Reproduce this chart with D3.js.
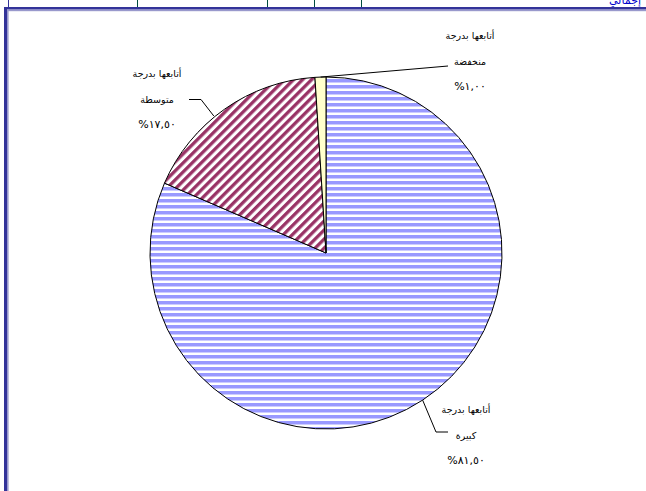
<!DOCTYPE html>
<html><head><meta charset="utf-8">
<script src="https://cdn.jsdelivr.net/npm/d3@7"></script>
<style>html,body{margin:0;padding:0;background:#fff;overflow:hidden}</style>
</head><body>
<svg id="c" width="646" height="491"></svg>
<script>
const categories = ["أتابعها بدرجة كبيرة", "أتابعها بدرجة متوسطة", "أتابعها بدرجة منخفضة"];
const values = [81.5, 17.5, 1.0];
const labelLine1 = ["أتابعها بدرجة", "أتابعها بدرجة", "أتابعها بدرجة"];
const labelLine2 = ["كبيرة", "متوسطة", "منخفضة"];
const valueLabels = ["%٨١,٥٠", "%١٧,٥٠", "%١,٠٠"];

(function(){
const svg = d3.select("#c");
const W = 646, H = 491;
const cx = 326, cy = 253, R = 176;

// patterns
const defs = svg.append("defs");
const pb = defs.append("pattern").attr("id","pBlue").attr("patternUnits","userSpaceOnUse")
  .attr("width",6).attr("height",6);
pb.append("rect").attr("width",6).attr("height",6).attr("fill","#ffffff");
pb.append("rect").attr("y",0).attr("width",6).attr("height",3.5).attr("fill","#9999ff");
const pm = defs.append("pattern").attr("id","pMaroon").attr("patternUnits","userSpaceOnUse")
  .attr("width",6.4).attr("height",10).attr("patternTransform","rotate(45)");
pm.append("rect").attr("width",6.4).attr("height",10).attr("fill","#ffffff");
pm.append("rect").attr("x",0).attr("width",3.3).attr("height",10).attr("fill","#993366");
const fills = ["url(#pBlue)", "url(#pMaroon)", "#ffffcc"];

// top table fragment
const tg = svg.append("g");
[8, 137, 267, 314, 361].forEach((x,i)=>{
  tg.append("line").attr("x1",x+0.5).attr("x2",x+0.5).attr("y1",0).attr("y2",7)
    .attr("stroke", i===0 ? "#333399" : "#004d40").attr("stroke-width",1);
});
tg.append("text").attr("x",641).attr("y",4).attr("text-anchor","end")
  .attr("font-family","'DejaVu Sans', sans-serif").attr("font-size",11)
  .attr("fill","#0000cc").text("إجمالي");

// chart frame
svg.append("rect").attr("x",4).attr("y",7).attr("width",W-4).attr("height",2.6).attr("fill","#333399");
svg.append("rect").attr("x",7).attr("y",9.6).attr("width",W-7).attr("height",1.6).attr("fill","#9999cc");
svg.append("rect").attr("x",4).attr("y",7).attr("width",3).attr("height",H-7).attr("fill","#333399");
svg.append("rect").attr("x",7).attr("y",9.6).attr("width",1.6).attr("height",H-9.6).attr("fill","#9999cc");

// pie
const pie = d3.pie().sort(null).value(d=>d)(values);
const arc = d3.arc().innerRadius(0).outerRadius(R);
const rim = d3.arc().innerRadius(R).outerRadius(R);
const g = svg.append("g").attr("transform",`translate(${cx},${cy})`);
g.selectAll("path").data(pie).join("path")
  .attr("d",arc).attr("fill",(d,i)=>fills[i])
  .attr("stroke","#000").attr("stroke-width",1).attr("stroke-linejoin","round");

// labels
const font = "'DejaVu Sans', sans-serif";
const labelPos = [ {x:466, y:413}, {x:157, y:77}, {x:470, y:39} ];
const lg = svg.append("g").attr("font-family",font).attr("font-size",9.5).attr("fill","#000")
  .attr("text-anchor","middle");
values.forEach((v,i)=>{
  const p = labelPos[i];
  lg.append("text").attr("x",p.x).attr("y",p.y).text(labelLine1[i]);
  lg.append("text").attr("x",p.x).attr("y",p.y+25.5).text(labelLine2[i]);
  lg.append("text").attr("x",p.x).attr("y",p.y+51).attr("direction","ltr")
    .attr("font-size",11).text(valueLabels[i]);
});

// leader lines
function rimPt(i){ const c = rim.centroid(pie[i]); return [cx+c[0], cy+c[1]]; }
const line = d3.line();
const ll = svg.append("g").attr("fill","none").attr("stroke","#000").attr("stroke-width",1);
{ const r = rimPt(0); ll.append("path").attr("d", line([r,[436,432],[448,432]])); }
{ const r = rimPt(1); ll.append("path").attr("d", line([[189,99.5],[201,99.5],[r[0]-11,r[1]+7]])); }
{ const r = rimPt(2); ll.append("path").attr("d", line([[448,66],r])); }
})();
</script>
</body></html>
